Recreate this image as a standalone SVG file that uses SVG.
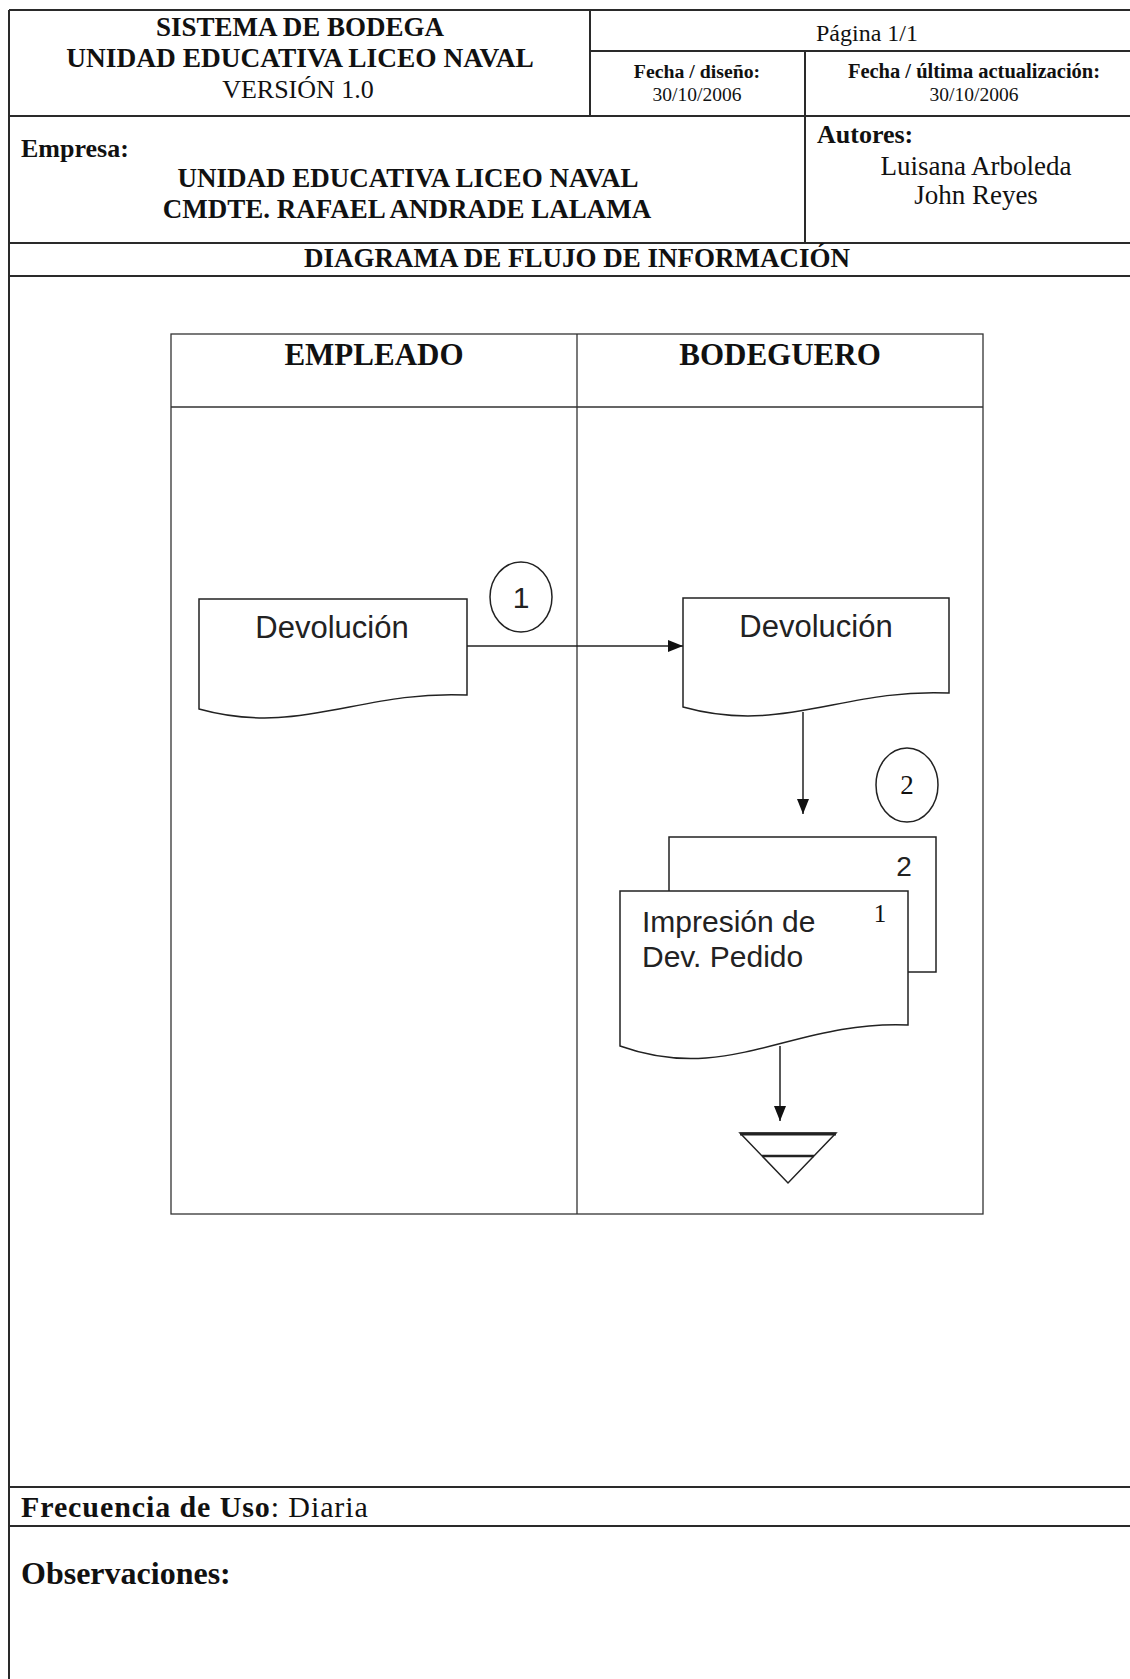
<svg xmlns="http://www.w3.org/2000/svg" width="1130" height="1679" viewBox="0 0 1130 1679">
<defs>
<style>
.frame{stroke:#2a2a2a;stroke-width:2;fill:none}
.lane{stroke:#333;stroke-width:1.3;fill:none}
.serif{font-family:"Liberation Serif","Times New Roman",serif;fill:#111}
.b{font-weight:bold}
.sans{font-family:"Liberation Sans",Arial,sans-serif;fill:#222}
.shape{fill:#fff;stroke:#222;stroke-width:1.5}
.conn{stroke:#222;stroke-width:1.5;fill:none}
.mid{text-anchor:middle}
</style>
<marker id="arr" viewBox="0 0 15 12" refX="15" refY="6" markerWidth="15" markerHeight="12" markerUnits="userSpaceOnUse" orient="auto"><path d="M0,0 L15,6 L0,12 z" fill="#111"/></marker>
</defs>
<rect x="0" y="0" width="1130" height="1679" fill="#fff"/>

<g id="frame">
<path class="frame" d="M9,10 H1130 M9,10 V1679 M590,10 V116 M590,51 H1130 M805,51 V243 M9,116 H1130 M9,243 H1130 M9,276 H1130 M9,1487 H1130 M9,1526 H1130"/>
</g>

<g id="header-text">
<text class="serif b mid" x="300" y="36" font-size="27">SISTEMA DE BODEGA</text>
<text class="serif b mid" x="300" y="67" font-size="27.4">UNIDAD EDUCATIVA LICEO NAVAL</text>
<text class="serif mid" x="298" y="98" font-size="26">VERSIÓN 1.0</text>
<text class="serif mid" x="867" y="41" font-size="24">Página 1/1</text>
<text class="serif b mid" x="697" y="78" font-size="19.8">Fecha / diseño:</text>
<text class="serif mid" x="697" y="101" font-size="19.5">30/10/2006</text>
<text class="serif b mid" x="974" y="78" font-size="20.5">Fecha / última actualización:</text>
<text class="serif mid" x="974" y="101" font-size="19.5">30/10/2006</text>
<text class="serif b" x="21" y="157" font-size="26">Empresa:</text>
<text class="serif b mid" x="408" y="187" font-size="27">UNIDAD EDUCATIVA LICEO NAVAL</text>
<text class="serif b mid" x="407" y="218" font-size="27">CMDTE. RAFAEL ANDRADE LALAMA</text>
<text class="serif b" x="817" y="143" font-size="26">Autores:</text>
<text class="serif mid" x="976" y="175" font-size="27">Luisana Arboleda</text>
<text class="serif mid" x="976" y="204" font-size="27">John Reyes</text>
<text class="serif b mid" x="577" y="267" font-size="27">DIAGRAMA DE FLUJO DE INFORMACIÓN</text>
</g>

<g id="swimlanes">
<rect class="lane" x="171" y="334" width="812" height="880"/>
<path class="lane" d="M577,334 V1214 M171,407 H983"/>
<text class="serif b mid" x="374" y="365" font-size="31">EMPLEADO</text>
<text class="serif b mid" x="780" y="365" font-size="31">BODEGUERO</text>
</g>

<g id="doc-empleado">
<path class="shape" d="M199,599 H467 V695 C360,690 300,737 199,709 Z"/>
<text class="sans mid" x="332" y="638" font-size="31">Devolución</text>
</g>

<g id="step-1">
<ellipse class="shape" cx="521" cy="597" rx="31" ry="35"/>
<text class="sans mid" x="521" y="608" font-size="30">1</text>
</g>

<g id="doc-bodeguero">
<path class="shape" d="M683,598 H949 V693 C843,688 783,735 683,707 Z"/>
<text class="sans mid" x="816" y="637" font-size="31">Devolución</text>
</g>

<g id="step-2">
<ellipse class="shape" cx="907" cy="785" rx="31" ry="37"/>
<text class="serif mid" x="907" y="794" font-size="27">2</text>
</g>

<g id="doc-impresion">
<rect class="shape" x="669" y="837" width="267" height="135"/>
<text class="sans mid" x="904" y="876" font-size="28">2</text>
<path class="shape" d="M620,891 H908 V1025 C793,1020 729,1085 620,1046 Z"/>
<text class="serif mid" x="880" y="922" font-size="25">1</text>
<text class="sans" x="642" y="932" font-size="30">Impresión de</text>
<text class="sans" x="642" y="967" font-size="30">Dev. Pedido</text>
</g>

<g id="archivo">
<polygon class="shape" points="740,1133 836,1133 788,1183"/>
<path d="M740,1134 H836" stroke="#222" stroke-width="3" fill="none"/>
<path d="M762,1156 H814" stroke="#222" stroke-width="2.5" fill="none"/>
</g>

<g id="connectors">
<path class="conn" d="M467,646 H683" marker-end="url(#arr)"/>
<path class="conn" d="M803,712 V814" marker-end="url(#arr)"/>
<path class="conn" d="M780,1046 V1121" marker-end="url(#arr)"/>
</g>

<g id="footer-text">
<text class="serif" x="21" y="1517" font-size="30" letter-spacing="0.9"><tspan class="b">Frecuencia de Uso</tspan>: Diaria</text>
<text class="serif b" x="21" y="1584" font-size="32">Observaciones:</text>
</g>
</svg>
